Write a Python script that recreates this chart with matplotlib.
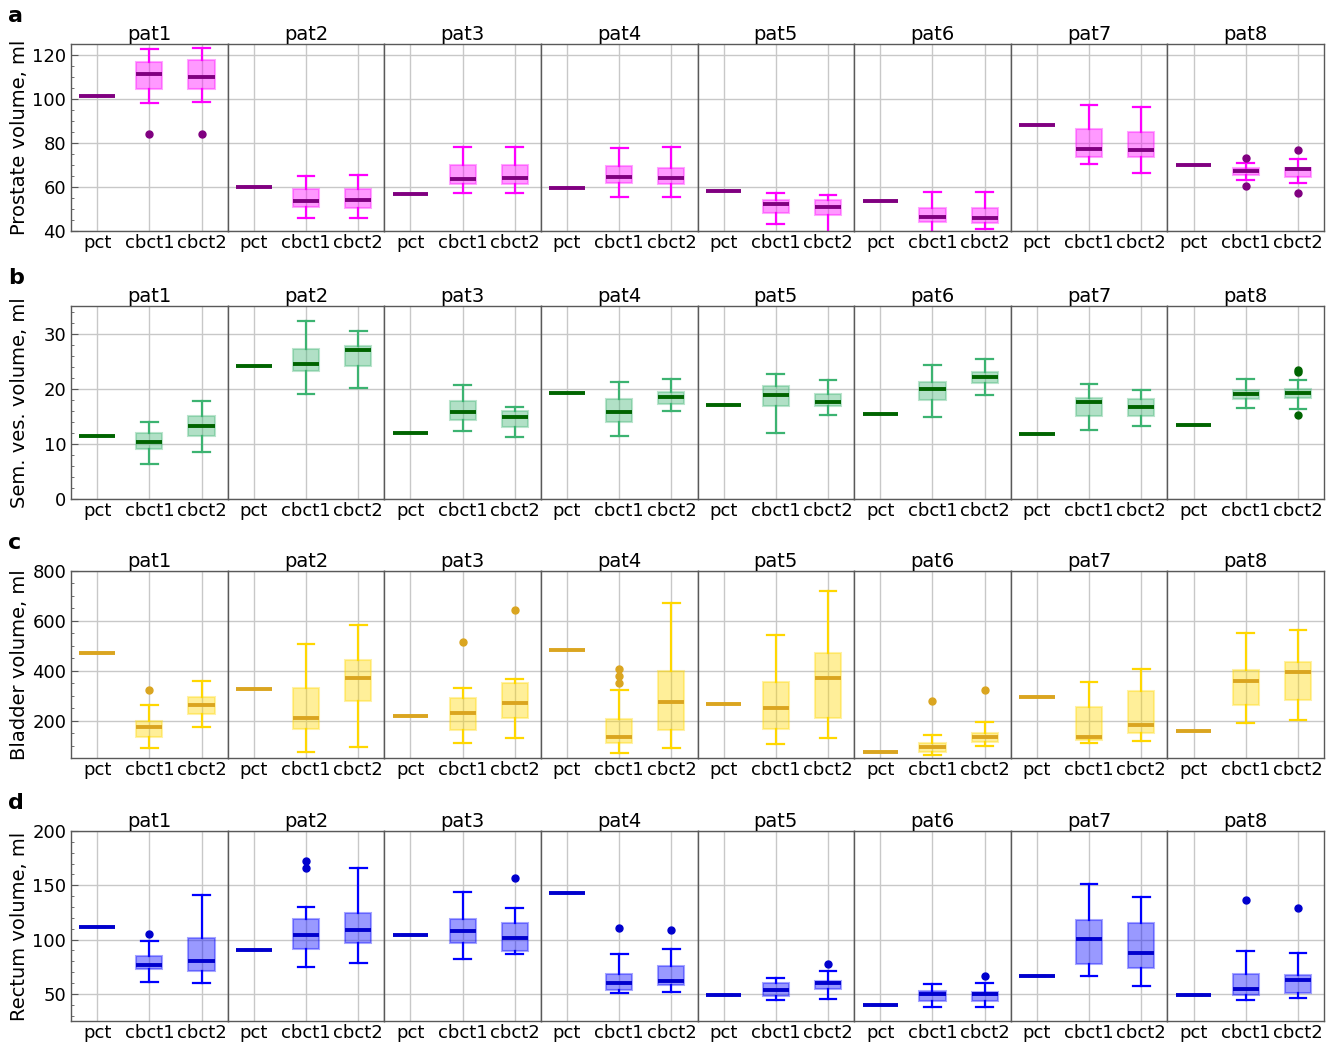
import numpy as np
import matplotlib.pyplot as plt
from matplotlib.ticker import AutoMinorLocator
from matplotlib.colors import to_rgba

patients = ['pat1', 'pat2', 'pat3', 'pat4', 'pat5', 'pat6', 'pat7', 'pat8']
scans = ['pct', 'cbct1', 'cbct2']

# planning CT volume (one value per patient)
# cbct boxes: (whisker low, q1, median, q3, whisker high) per patient
prostate_pct = [101.3, 60.0, 57.0, 59.4, 58.4, 53.6, 88.0, 70.0]
prostate_cbct1 = [(98.2, 104.6, 111.3, 117.0, 122.7), (46.0, 50.8, 53.6, 59.0, 64.8),
                  (57.5, 61.2, 63.6, 70.2, 78.2), (55.4, 62.0, 64.4, 69.6, 77.6),
                  (43.4, 48.1, 52.2, 54.0, 57.1), (39.7, 44.0, 46.4, 50.4, 57.8),
                  (70.6, 73.5, 77.2, 86.5, 97.1), (63.3, 65.6, 67.4, 68.5, 70.9)]
prostate_cbct1_out = [[83.9], [], [], [], [], [], [], [73.2, 60.3]]
prostate_cbct2 = [(98.5, 104.6, 110.1, 117.7, 123.0), (46.0, 50.5, 53.9, 58.9, 65.4),
                  (57.2, 61.2, 63.9, 70.2, 78.2), (55.4, 61.2, 64.2, 68.8, 78.2),
                  (39.0, 47.2, 51.1, 54.0, 56.5), (40.8, 43.7, 46.0, 50.4, 57.8),
                  (66.4, 73.5, 76.7, 85.1, 96.2), (61.8, 64.5, 68.0, 68.8, 72.9)]
prostate_cbct2_out = [[84.2], [], [], [], [], [], [], [77.0, 57.1]]

semves_pct = [11.35, 24.15, 12.0, 19.3, 17.1, 15.5, 11.8, 13.4]
semves_cbct1 = [(6.3, 9.06, 10.4, 12.0, 13.9), (19.1, 23.3, 24.5, 27.2, 32.3),
                (12.4, 14.3, 15.7, 17.75, 20.6), (11.4, 13.9, 15.8, 18.1, 21.2),
                (12.0, 16.9, 18.8, 20.5, 22.75), (14.8, 17.9, 19.9, 21.25, 24.3),
                (12.5, 15.0, 17.5, 18.4, 20.8), (16.5, 18.05, 19.0, 19.8, 21.7)]
semves_cbct1_out = [[], [], [], [], [], [], [], []]
semves_cbct2 = [(8.45, 11.35, 13.2, 15.0, 17.75), (20.2, 24.1, 27.0, 27.8, 30.5),
                (11.3, 13.0, 14.85, 15.9, 16.7), (15.9, 17.2, 18.5, 19.4, 21.8),
                (15.15, 16.8, 17.5, 19.0, 21.55), (18.8, 21.1, 22.1, 23.1, 25.3),
                (13.3, 15.0, 16.7, 18.2, 19.7), (16.3, 18.3, 19.3, 19.9, 21.6)]
semves_cbct2_out = [[], [], [], [], [], [], [], [23.4, 23.1, 15.15]]

bladder_pct = [471, 328, 219, 483, 269, 75, 296, 160]
bladder_cbct1 = [(92, 135, 177, 199, 264), (75, 169, 212, 332, 507),
                 (110, 165, 232, 290, 330), (71, 110, 136, 207, 324),
                 (107, 169, 251, 354, 545), (62, 75, 96, 111, 144),
                 (112, 124, 135, 257, 354), (192, 263, 360, 405, 553)]
bladder_cbct1_out = [[324], [], [514], [409, 380, 352], [], [278], [], []]
bladder_cbct2 = [(177, 228, 265, 296, 358), (96, 280, 372, 442, 585),
                 (131, 211, 272, 352, 368), (91, 163, 277, 398, 672),
                 (131, 212, 372, 472, 718), (98, 114, 135, 150, 197),
                 (118, 150, 184, 320, 409), (204, 283, 397, 437, 563)]
bladder_cbct2_out = [[], [], [643], [], [], [322], [], []]

rectum_pct = [111.3, 90.1, 104.6, 142.6, 48.5, 40.0, 66.7, 48.8]
rectum_cbct1 = [(61.0, 72.5, 76.7, 85.0, 98.9), (74.6, 91.0, 104.0, 119.2, 130.2),
                (82.2, 97.0, 108.0, 119.0, 143.5), (50.9, 53.6, 60.0, 68.2, 86.7),
                (43.9, 47.6, 53.6, 60.0, 64.6), (37.8, 43.6, 50.0, 52.4, 58.8),
                (66.7, 77.6, 100.7, 118.3, 151.1), (44.8, 48.8, 54.5, 68.5, 89.2)]
rectum_cbct1_out = [[105.0], [172.4, 166.3], [], [111.0], [], [], [], [136.5]]
rectum_cbct2 = [(60.0, 71.2, 80.7, 101.9, 141.4), (78.5, 96.7, 109.2, 124.7, 165.7),
                (86.7, 89.5, 101.6, 115.0, 129.2), (51.5, 58.2, 62.1, 75.8, 91.3),
                (45.7, 54.5, 60.0, 61.8, 71.2), (37.8, 43.0, 50.0, 51.5, 60.0),
                (57.6, 73.4, 87.6, 115.6, 139.3), (46.0, 50.6, 63.0, 67.6, 87.3)]
rectum_cbct2_out = [[], [], [157.2], [109.2], [77.6], [66.4], [], [129.2]]

rows = [
    dict(letter='a', label='Prostate volume, ml', pct=prostate_pct,
         c1=prostate_cbct1, c1_out=prostate_cbct1_out,
         c2=prostate_cbct2, c2_out=prostate_cbct2_out,
         ylim=(40, 125), yticks=np.arange(40, 121, 20),
         color='magenta', dark='purple', rect=(0.7785, 0.1793)),
    dict(letter='b', label='Sem. ves. volume, ml', pct=semves_pct,
         c1=semves_cbct1, c1_out=semves_cbct1_out,
         c2=semves_cbct2, c2_out=semves_cbct2_out,
         ylim=(0, 35), yticks=np.arange(0, 31, 10),
         color='mediumseagreen', dark='darkgreen', rect=(0.5216, 0.1850)),
    dict(letter='c', label='Bladder volume, ml', pct=bladder_pct,
         c1=bladder_cbct1, c1_out=bladder_cbct1_out,
         c2=bladder_cbct2, c2_out=bladder_cbct2_out,
         ylim=(52, 800), yticks=np.arange(200, 801, 200),
         color='gold', dark='goldenrod', rect=(0.2733, 0.1793)),
    dict(letter='d', label='Rectum volume, ml', pct=rectum_pct,
         c1=rectum_cbct1, c1_out=rectum_cbct1_out,
         c2=rectum_cbct2, c2_out=rectum_cbct2_out,
         ylim=(25, 200), yticks=np.arange(50, 201, 50),
         color='blue', dark='mediumblue', rect=(0.0211, 0.1821)),
]


def box_stats(summary, fliers):
    lo, q1, med, q3, hi = summary
    return dict(whislo=lo, q1=q1, med=med, q3=q3, whishi=hi, fliers=fliers)


fig = plt.figure(figsize=(13.35, 10.43), dpi=100)
left, right = 0.0532, 0.9918
width = (right - left) / len(patients)

for row in rows:
    bottom, height = row['rect']
    col, dark = row['color'], row['dark']
    first = None
    for i, pat in enumerate(patients):
        ax = fig.add_axes([left + i * width, bottom, width, height],
                          sharey=first)
        if first is None:
            first = ax
        p = row['pct'][i]
        stats = [dict(whislo=p, q1=p, med=p, q3=p, whishi=p, fliers=[]),
                 box_stats(row['c1'][i], row['c1_out'][i]),
                 box_stats(row['c2'][i], row['c2_out'][i])]
        ax.bxp(stats, positions=[1, 2, 3], widths=[0.68, 0.5, 0.5],
               capwidths=0.32, patch_artist=True,
               boxprops=dict(facecolor=to_rgba(col, 0.4),
                             edgecolor=to_rgba(col, 0.35), linewidth=1.5),
               whiskerprops=dict(color=col, linewidth=1.6),
               capprops=dict(color=col, linewidth=1.6),
               medianprops=dict(color=dark, linewidth=2.8, solid_capstyle='butt'),
               flierprops=dict(marker='o', markerfacecolor=dark,
                               markeredgecolor=dark, markersize=5))
        ax.set_xlim(0.5, 3.5)
        ax.set_xticks([1, 2, 3])
        ax.set_xticklabels(scans, fontsize=13)
        ax.set_title(pat, fontsize=14, pad=3)
        ax.grid(True, color='#c8c8c8', linewidth=1.0)
        ax.set_axisbelow(True)
        for s in ax.spines.values():
            s.set_color('0.35')
            s.set_linewidth(1.0)
        ax.tick_params(axis='x', length=0, pad=2)
        if i == 0:
            ax.set_ylim(*row['ylim'])
            ax.set_yticks(row['yticks'])
            ax.yaxis.set_minor_locator(AutoMinorLocator())
            ax.tick_params(axis='y', which='major', direction='in',
                           length=5, labelsize=13, color='0.35')
            ax.tick_params(axis='y', which='minor', direction='in',
                           length=2.5, color='0.35')
            ax.set_ylabel(row['label'], fontsize=14)
            ax.yaxis.set_label_coords(-0.27, 0.5)
        else:
            ax.tick_params(axis='y', which='both', left=False, labelleft=False)
    fig.text(0.006, bottom + height + 0.027, row['letter'], fontsize=16,
             fontweight='bold', va='center', ha='left')

fig.savefig('out.png', dpi=100)
